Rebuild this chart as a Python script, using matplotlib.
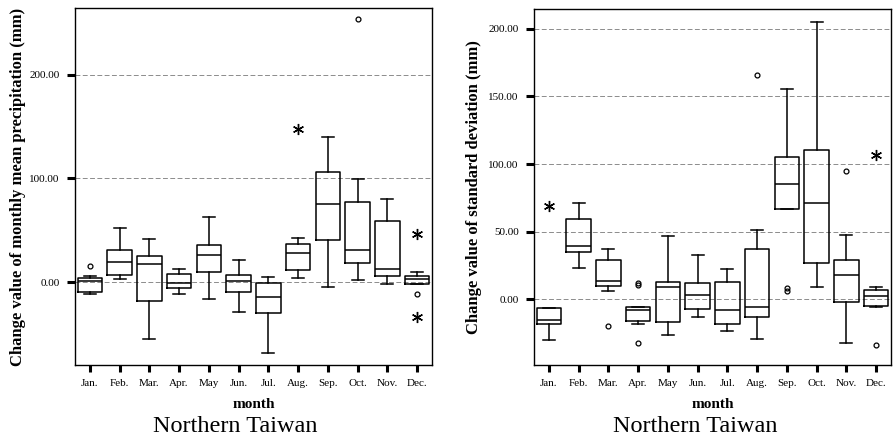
import matplotlib
matplotlib.use('Agg')
import matplotlib.pyplot as plt

plt.rcParams['font.family'] = ['Liberation Serif', 'DejaVu Serif']

months = ['Jan.', 'Feb.', 'Mar.', 'Apr.', 'May', 'Jun.', 'Jul.', 'Aug.',
          'Sep.', 'Oct.', 'Nov.', 'Dec.']

# monthly mean precipitation change (mm)
precip_whislo = [-11.5, 2.9, -54.5, -11.5, -16.3, -28.3, -67.7, 3.8, -4.5, 1.9, -1.9, -1.9]
precip_q1 = [-9.6, 7.3, -17.7, -5.8, 9.6, -9.0, -29.8, 12.1, 40.7, 18.3, 6.4, -1.9]
precip_med = [1.0, 19.5, 17.3, -1.0, 26.5, 1.5, -14.1, 27.9, 75.3, 31.0, 13.1, 2.9]
precip_q3 = [3.8, 31.0, 25.0, 8.3, 35.9, 7.3, -0.2, 37.1, 105.8, 77.5, 59.0, 6.4]
precip_whishi = [6.0, 52.5, 42.0, 13.0, 63.0, 21.4, 5.0, 42.9, 139.7, 99.0, 79.8, 9.6]
precip_outliers = [[16.0], [], [], [], [], [], [], [], [], [253.0], [], [-11.5]]
precip_extremes = [[], [], [], [], [], [], [], [148.0], [], [], [], [46.4, -33.0]]

# standard deviation change (mm)
sd_whislo = [-30.1, 22.9, 6.4, -18.5, -26.6, -12.9, -23.4, -29.1, 66.8, 8.9, -32.1, -5.5]
sd_q1 = [-18.3, 34.8, 9.8, -15.8, -16.8, -7.2, -18.3, -12.9, 66.8, 26.6, -2.0, -4.7]
sd_med = [-15.5, 39.2, 13.8, -7.7, 8.9, 3.4, -8.1, -5.4, 85.3, 71.4, 18.2, 2.7]
sd_q3 = [-6.2, 59.2, 29.1, -5.4, 13.0, 11.8, 12.8, 37.4, 105.2, 110.7, 29.1, 7.1]
sd_whishi = [-6.2, 71.2, 37.4, -5.4, 46.8, 33.0, 22.6, 51.0, 155.3, 204.9, 47.8, 8.9]
sd_outliers = [[], [], [-19.5], [11.8, 10.8, -32.1], [], [], [], [165.7], [6.0, 8.5],
               [], [95.1], [-33.6]]
sd_extremes = [[69.2], [], [], [], [], [], [], [], [], [], [], [106.5]]


def draw_panel(ax, whislo, q1, med, q3, whishi, outliers, extremes, yticks, ylim, ylabel, ylab_x):
    stats = []
    for i in range(len(months)):
        stats.append(dict(whislo=whislo[i], q1=q1[i], med=med[i], q3=q3[i],
                          whishi=whishi[i], fliers=outliers[i], label=months[i]))
    pos = list(range(1, len(months) + 1))
    for y in yticks:
        ax.axhline(y, color='#8c8c8c', lw=0.7, ls=(0, (5, 2.5)), zorder=0)
    ax.bxp(stats, positions=pos, widths=0.83, patch_artist=False,
           boxprops=dict(color='black', lw=1.1),
           medianprops=dict(color='black', lw=1.1),
           whiskerprops=dict(color='black', lw=1.1),
           capprops=dict(color='black', lw=1.1),
           capwidths=0.4,
           flierprops=dict(marker='o', ms=3.5, mfc='none', mec='black', mew=0.9))
    for p, ex in zip(pos, extremes):
        if ex:
            ax.plot([p] * len(ex), ex, ls='none', marker=(6, 2, 0), ms=8,
                    color='black', mew=1.0)
    ax.set_xlim(0.5, 12.5)
    ax.set_ylim(*ylim)
    ax.set_yticks(yticks)
    ax.set_yticklabels(['%.2f' % v for v in yticks], fontsize=8)
    ax.set_xticks(pos)
    ax.set_xticklabels(months, fontsize=8)
    ax.tick_params(axis='both', direction='out', length=5, width=2.2, pad=5)
    ax.tick_params(axis='y', length=6)
    ax.set_xlabel('month', fontsize=11, fontweight='bold', labelpad=7.5)
    ax.set_ylabel(ylabel, fontsize=12, fontweight='bold')
    ax.yaxis.set_label_coords(ylab_x, 0.5)
    for s in ax.spines.values():
        s.set_linewidth(1.0)


fig = plt.figure(figsize=(8.95, 4.38), dpi=100)
ax1 = fig.add_axes([75 / 895, 73 / 438, 357 / 895, 357 / 438])
ax2 = fig.add_axes([534 / 895, 73 / 438, 357 / 895, 356 / 438])

draw_panel(ax1, precip_whislo, precip_q1, precip_med, precip_q3, precip_whishi,
           precip_outliers, precip_extremes, [0, 100, 200], (-79.5, 264),
           'Change value of monthly mean precipitation (mm)', -0.138)
draw_panel(ax2, sd_whislo, sd_q1, sd_med, sd_q3, sd_whishi,
           sd_outliers, sd_extremes, [0, 50, 100, 150, 200], (-48.6, 214.7),
           'Change value of standard deviation (mm)', -0.145)

fig.text(235.5 / 895, 1 - 426.5 / 438, 'Northern Taiwan', fontsize=17.5, ha='center', va='center')
fig.text(695.5 / 895, 1 - 426.5 / 438, 'Northern Taiwan', fontsize=17.5, ha='center', va='center')

fig.savefig('out.png', dpi=100)
